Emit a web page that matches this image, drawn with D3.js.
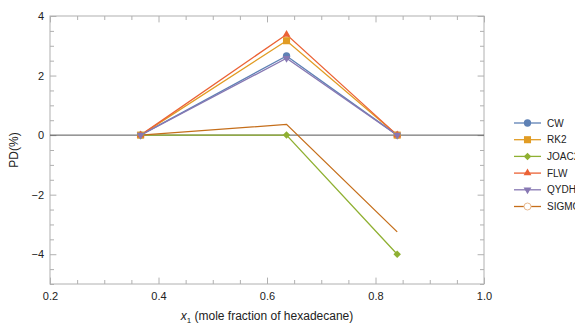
<!DOCTYPE html>
<html>
<head>
<meta charset="utf-8">
<script src="https://cdn.jsdelivr.net/npm/d3@7.9.0/dist/d3.min.js"></script>
<style>
  body { margin: 0; background: #fff; }
  svg { font-family: "Liberation Sans", Arial, sans-serif; }
</style>
</head>
<body>
<div id="chart"></div>
<script>
// mole fraction of hexadecane
const xValues = [0.367, 0.636, 0.84];

const seriesNames = ["CW", "RK2", "JOAC2", "FLW", "QYDH", "SIGMOID"];
const cw = [0, 2.66, 0];
const rk2 = [0, 3.17, 0];
const joac2 = [0, 0, -4.0];
const flw = [0, 3.38, 0];
const qydh = [0, 2.58, 0];
const sigmoid = [0, 0.36, -3.25];

const xTickLabels = [0.2, 0.4, 0.6, 0.8, 1.0];
const yTickLabels = [-4, -2, 0, 2, 4];

const colors = ["#5E81B5", "#E19C24", "#8FB032", "#EB6235", "#8778B3", "#C56E1A"];
const symbols = ["circle", "square", "diamond", "triangle", "triangleDown", "none"];

const allSeries = [cw, rk2, joac2, flw, qydh, sigmoid].map((vals, i) => ({
  name: seriesNames[i],
  color: colors[i],
  symbol: symbols[i],
  points: vals.map((v, j) => ({ x: xValues[j], y: v }))
}));

const width = 575;
const height = 325;
const area = { left: 50, right: 484, top: 16, bottom: 284 };

const svg = d3.select('#chart')
  .append('svg')
  .attr('width', width)
  .attr('height', height);

const xScale = d3.scaleLinear().domain([0.2, 1.0]).range([area.left, area.right]);
const yScale = d3.scaleLinear().domain([-5, 4]).range([area.bottom, area.top]);

const frameColor = '#b0b0b0';
const fmtX = d3.format('.1f');

// frame
svg.append('rect')
  .attr('x', area.left)
  .attr('y', area.top)
  .attr('width', area.right - area.left)
  .attr('height', area.bottom - area.top)
  .attr('fill', 'none')
  .attr('stroke', frameColor)
  .attr('stroke-width', 1);

// ticks on all four sides, labels only where the reference has them
const xTicks = d3.range(0.2, 1.0001, 0.05);
const yTicks = d3.range(-5, 4.0001, 0.5);

function isLabelled(v, list) {
  return list.some(l => Math.abs(l - v) < 1e-6);
}

const axes = [
  { axis: d3.axisBottom(xScale), t: `translate(0,${area.bottom})`, labels: true, ticks: xTicks, list: xTickLabels, dir: 'x' },
  { axis: d3.axisTop(xScale), t: `translate(0,${area.top})`, labels: false, ticks: xTicks, list: xTickLabels, dir: 'x' },
  { axis: d3.axisLeft(yScale), t: `translate(${area.left},0)`, labels: true, ticks: yTicks, list: yTickLabels, dir: 'y' },
  { axis: d3.axisRight(yScale), t: `translate(${area.right},0)`, labels: false, ticks: yTicks, list: yTickLabels, dir: 'y' }
];

axes.forEach(a => {
  const g = svg.append('g')
    .attr('transform', a.t)
    .call(a.axis
      .tickValues(a.ticks)
      .tickSizeOuter(0)
      .tickSizeInner(-4)
      .tickPadding(a.dir === 'x' ? 8 : 6)
      .tickFormat(d => (a.labels && isLabelled(d, a.list)) ? (a.dir === 'x' ? fmtX(d) : d3.format('d')(d).replace('-', '\u2212')) : ''));
  g.select('.domain').remove();
  g.selectAll('.tick line')
    .attr('stroke', frameColor)
    .each(function (d) {
      if (isLabelled(d, a.list)) {
        const tick = d3.select(this);
        if (a.dir === 'x') tick.attr('y2', tick.attr('y2') * 1.6);
        else tick.attr('x2', tick.attr('x2') * 1.6);
      }
    });
  g.selectAll('.tick text')
    .attr('fill', '#222')
    .style('font-size', '11px')
    .style('font-family', '"Liberation Sans", Arial, sans-serif');
});

// zero line
svg.append('line')
  .attr('x1', area.left)
  .attr('x2', area.right)
  .attr('y1', yScale(0))
  .attr('y2', yScale(0))
  .attr('stroke', '#555')
  .attr('stroke-width', 1);

const line = d3.line().x(d => xScale(d.x)).y(d => yScale(d.y));

const symbolMap = {
  circle: { type: d3.symbolCircle, size: 42, rot: 0 },
  square: { type: d3.symbolSquare, size: 50, rot: 0 },
  diamond: { type: d3.symbolDiamond2, size: 36, rot: 0 },
  triangle: { type: d3.symbolTriangle2, size: 44, rot: 0 },
  triangleDown: { type: d3.symbolTriangle2, size: 44, rot: 180 }
};

const plot = svg.append('g');

allSeries.forEach(s => {
  plot.append('path')
    .datum(s.points)
    .attr('d', line)
    .attr('fill', 'none')
    .attr('stroke', s.color)
    .attr('stroke-width', 1.3);
});

allSeries.forEach(s => {
  if (s.symbol === 'none') return;
  const sym = symbolMap[s.symbol];
  plot.selectAll(null)
    .data(s.points)
    .join('path')
    .attr('d', d3.symbol().type(sym.type).size(sym.size))
    .attr('transform', d => `translate(${xScale(d.x)},${yScale(d.y)}) rotate(${sym.rot})`)
    .attr('fill', s.color);
});

// legend
const legend = svg.append('g').attr('transform', 'translate(514,123)');
allSeries.forEach((s, i) => {
  const g = legend.append('g').attr('transform', `translate(0,${i * 16.7})`);
  g.append('line')
    .attr('x1', 0).attr('x2', 27)
    .attr('y1', 0).attr('y2', 0)
    .attr('stroke', s.color)
    .attr('stroke-width', 1.3);
  if (s.symbol === 'none') {
    g.append('circle')
      .attr('cx', 13.5).attr('cy', 0).attr('r', 3.5)
      .attr('fill', '#fff')
      .attr('stroke', '#E8B98F')
      .attr('stroke-width', 1);
  } else {
    const sym = symbolMap[s.symbol];
    g.append('path')
      .attr('d', d3.symbol().type(sym.type).size(sym.size))
      .attr('transform', `translate(13.5,0) rotate(${sym.rot})`)
      .attr('fill', s.color);
  }
  g.append('text')
    .attr('x', 33)
    .attr('y', 0)
    .attr('dy', '0.35em')
    .attr('fill', '#222')
    .style('font-size', '10px')
    .text(s.name);
});

// axis titles
const xTitle = svg.append('text')
  .attr('x', (area.left + area.right) / 2)
  .attr('y', 320)
  .attr('text-anchor', 'middle')
  .attr('fill', '#222')
  .style('font-size', '12px');
xTitle.append('tspan').style('font-style', 'italic').text('x');
xTitle.append('tspan').attr('dy', 2.5).style('font-size', '8px').text('1');
xTitle.append('tspan').attr('dy', -2.5).text(' (mole fraction of hexadecane)');

svg.append('text')
  .attr('transform', `translate(18,${(area.top + area.bottom) / 2}) rotate(-90)`)
  .attr('text-anchor', 'middle')
  .attr('fill', '#222')
  .style('font-size', '12px')
  .text('PD(%)');
</script>
</body>
</html>
